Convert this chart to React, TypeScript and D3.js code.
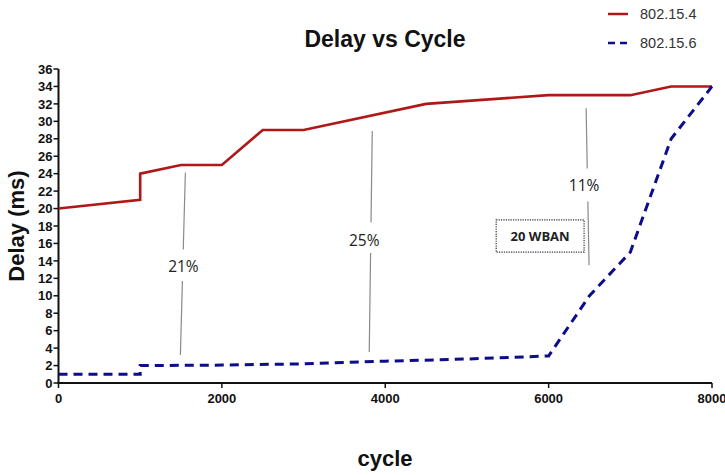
import React from "react";
import * as d3 from "d3";

const cycleA = [0, 1000, 1000, 1500, 2000, 2500, 3000, 4500, 6000, 7000, 7500, 8000];
const delayA = [20, 21, 24, 25, 25, 29, 29, 32, 33, 33, 34, 34];
const cycleB = [0, 1000, 1000, 2000, 3000, 4000, 5000, 6000, 6500, 7000, 7500, 8000];
const delayB = [1, 1, 2, 2.05, 2.2, 2.5, 2.75, 3.1, 10, 15, 28, 34];
const seriesNames = ["802.15.4", "802.15.6"];
const xTicks = [0, 2000, 4000, 6000, 8000];
const yTicks = d3.range(0, 37, 2);

// annotation leader lines (data coordinates)
const annLabels = ["21%", "25%", "11%"];
const annTop = [[1553, 24.1], [3841, 28.9], [6459, 31.5]];
const annBottom = [[1492, 3.2], [3804, 3.55], [6495, 13.5]];
const annText = [[1529, 13.4], [3743, 16.4], [6434, 22.6]];
const annGap = [[15.3, 11.7], [18.4, 14.9], [24.6, 20.8]];
const boxLabel = "20 WBAN";
const boxX = [5358, 6434];
const boxY = [18.7, 15.0];

const W = 725;
const H = 475;
const FONT = "'Liberation Sans', Arial, sans-serif";
const ANN_FONT = "'Open Sans', 'DejaVu Sans', sans-serif";

export default function App() {
  const x = d3.scaleLinear().domain([0, 8000]).range([58.5, 712]);
  const y = d3.scaleLinear().domain([0, 36]).range([383, 69]);
  const line = d3
    .line<[number, number]>()
    .x((d) => x(d[0]))
    .y((d) => y(d[1]));
  const dataA = cycleA.map((c, i) => [c, delayA[i]] as [number, number]);
  const dataB = cycleB.map((c, i) => [c, delayB[i]] as [number, number]);
  const red = "#b01818";
  const blue = "#0c0c8c";

  const interp = (a: number[], b: number[], yy: number) => {
    const t = (yy - a[1]) / (b[1] - a[1]);
    return a[0] + t * (b[0] - a[0]);
  };

  return (
    <svg width={W} height={H} style={{ position: "absolute", left: 0, top: 0, background: "#fff" }}>
      <rect x={0} y={0} width={W} height={H} fill="#fff" />
      {/* title */}
      <text x={385} y={47} textAnchor="middle" fontFamily={FONT} fontWeight="bold" fontSize={23} fill="#111">
        Delay vs Cycle
      </text>
      {/* legend */}
      <line x1={608} x2={628} y1={14} y2={14} stroke={red} strokeWidth={2.5} />
      <text x={640} y={19} fontFamily={FONT} fontSize={14.5} fill="#333">
        {seriesNames[0]}
      </text>
      <line x1={608} x2={630} y1={43} y2={43} stroke={blue} strokeWidth={2.5} strokeDasharray="7,5" />
      <text x={640} y={48} fontFamily={FONT} fontSize={14.5} fill="#333">
        {seriesNames[1]}
      </text>

      {/* axes */}
      <g>
        <line x1={x(0)} x2={x(0)} y1={y(0)} y2={y(36)} stroke="#111" strokeWidth={2} />
        {yTicks.map((t) => (
          <g key={"y" + t}>
            <line x1={x(0) - 5} x2={x(0)} y1={y(t)} y2={y(t)} stroke="#111" strokeWidth={1.5} />
            <text
              x={x(0) - 6}
              y={y(t)}
              dy="0.36em"
              textAnchor="end"
              fontFamily={FONT}
              fontWeight="bold"
              fontSize={13}
              fill="#111"
            >
              {t}
            </text>
          </g>
        ))}
        <line x1={x(0) - 1} x2={x(8000)} y1={y(0)} y2={y(0)} stroke="#111" strokeWidth={2} />
        {xTicks.map((t) => (
          <g key={"x" + t}>
            <line x1={x(t)} x2={x(t)} y1={y(0)} y2={y(0) + 5} stroke="#111" strokeWidth={1.5} />
            <text
              x={x(t)}
              y={y(0) + 20}
              textAnchor="middle"
              fontFamily={FONT}
              fontWeight="bold"
              fontSize={13}
              fill="#111"
            >
              {t}
            </text>
          </g>
        ))}
      </g>

      {/* axis titles */}
      <text
        transform={`translate(24,${y(18)}) rotate(-90)`}
        textAnchor="middle"
        fontFamily={FONT}
        fontWeight="bold"
        fontSize={22}
        fill="#111"
      >
        Delay (ms)
      </text>
      <text x={385} y={466} textAnchor="middle" fontFamily={FONT} fontWeight="bold" fontSize={22} fill="#111">
        cycle
      </text>

      {/* annotations */}
      {annLabels.map((lab, i) => {
        const top = annTop[i];
        const bot = annBottom[i];
        const g1 = annGap[i][0];
        const g2 = annGap[i][1];
        return (
          <g key={lab}>
            <line
              x1={x(top[0])}
              y1={y(top[1])}
              x2={x(interp(top, bot, g1))}
              y2={y(g1)}
              stroke="#8a8a8a"
              strokeWidth={1.2}
            />
            <line
              x1={x(interp(top, bot, g2))}
              y1={y(g2)}
              x2={x(bot[0])}
              y2={y(bot[1])}
              stroke="#8a8a8a"
              strokeWidth={1.2}
            />
            <text
              x={x(annText[i][0])}
              y={y(annText[i][1])}
              dy="0.36em"
              textAnchor="middle"
              fontFamily={ANN_FONT}
              fontSize={15.5}
              fill="#222"
            >
              {lab}
            </text>
          </g>
        );
      })}
      <rect
        x={x(boxX[0])}
        y={y(boxY[0])}
        width={x(boxX[1]) - x(boxX[0])}
        height={y(boxY[1]) - y(boxY[0])}
        fill="#fff"
        stroke="#333"
        strokeWidth={1.2}
        strokeDasharray="1.2,1.2"
      />
      <text
        x={(x(boxX[0]) + x(boxX[1])) / 2}
        y={(y(boxY[0]) + y(boxY[1])) / 2}
        dy="0.36em"
        textAnchor="middle"
        fontFamily={ANN_FONT}
        fontWeight="bold"
        fontSize={13}
        fill="#222"
      >
        {boxLabel}
      </text>

      {/* series */}
      <path d={line(dataA) || ""} fill="none" stroke={red} strokeWidth={2.6} strokeLinejoin="miter" />
      <path d={line(dataB) || ""} fill="none" stroke={blue} strokeWidth={3} strokeDasharray="9,6" />
    </svg>
  );
}
